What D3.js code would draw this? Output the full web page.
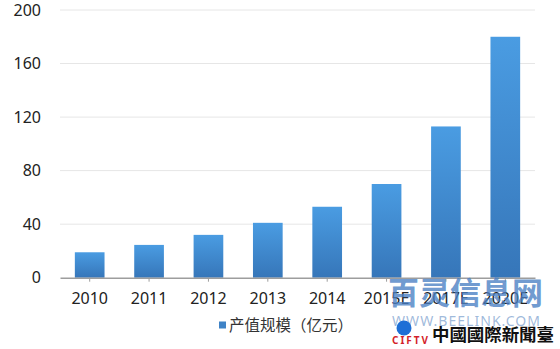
<!DOCTYPE html>
<html>
<head>
<meta charset="utf-8">
<script src="https://cdn.jsdelivr.net/npm/d3@7"></script>
<style>
  body { margin: 0; background: #fff; }
  text { font-family: "Noto Sans", "Noto Sans CJK SC", sans-serif; }
</style>
</head>
<body>
<div id="chart"></div>
<script>
// data
const years = ["2010", "2011", "2012", "2013", "2014", "2015E", "2017E", "2020E"];
const values = [19, 24.5, 32, 41, 53, 70, 113, 180];
const yTicks = [0, 40, 80, 120, 160, 200];
const seriesName = "产值规模（亿元）";

const W = 560, H = 349;
const margin = {top: 10, right: 25, bottom: 71, left: 60};

const svg = d3.select("#chart").append("svg")
  .attr("width", W).attr("height", H);

const defs = svg.append("defs");
const grad = defs.append("linearGradient")
  .attr("id", "barGrad").attr("x1", 0).attr("y1", 0).attr("x2", 0).attr("y2", 1);
grad.append("stop").attr("offset", "0%").attr("stop-color", "#4a9ce2");
grad.append("stop").attr("offset", "100%").attr("stop-color", "#3676b9");

const x = d3.scaleBand()
  .domain(years)
  .range([margin.left, W - margin.right])
  .paddingInner(0.5).paddingOuter(0.25);

const y = d3.scaleLinear()
  .domain([0, 200])
  .range([H - margin.bottom - 0.3, margin.top]);

// gridlines
svg.append("g")
  .selectAll("line")
  .data(yTicks.filter(d => d > 0))
  .enter().append("line")
    .attr("x1", margin.left).attr("x2", W - margin.right)
    .attr("y1", d => y(d)).attr("y2", d => y(d))
    .attr("stroke", "#e6e6e6").attr("stroke-width", 1);

// y labels
svg.append("g")
  .selectAll("text")
  .data(yTicks)
  .enter().append("text")
    .attr("x", 41)
    .attr("y", d => y(d))
    .attr("dy", "0.36em")
    .attr("text-anchor", "end")
    .attr("font-size", 16)
    .attr("fill", "#222")
    .text(d => d);

// bars
svg.append("g")
  .selectAll("rect")
  .data(values)
  .enter().append("rect")
    .attr("x", (d, i) => x(years[i]))
    .attr("y", d => y(d))
    .attr("width", x.bandwidth())
    .attr("height", d => y(0) - y(d))
    .attr("fill", "url(#barGrad)");

// x axis line + ticks
const xAxis = d3.axisBottom(x).tickSize(4).tickSizeOuter(0).tickPadding(11);
const gx = svg.append("g")
  .attr("transform", "translate(0," + y(0) + ")")
  .call(xAxis);
gx.select(".domain").attr("stroke", "#9d9d9d").attr("stroke-width", 1.5);
gx.selectAll(".tick line").attr("stroke", "#9d9d9d");
gx.selectAll(".tick text")
  .attr("font-size", 16)
  .attr("fill", "#222")
  .style("font-family", "\"Noto Sans\", sans-serif");

// legend
const lg = svg.append("g").attr("transform", "translate(219,325)");
lg.append("rect").attr("x", 0).attr("y", -3.5).attr("width", 7).attr("height", 7).attr("fill", "#3f83c6");
lg.append("text")
  .attr("x", 10).attr("y", 0).attr("dy", "0.36em")
  .attr("font-size", 15.5).attr("fill", "#333")
  .style("font-family", "\"Noto Sans CJK SC\", sans-serif")
  .text(seriesName);

// watermarks
svg.append("text")
  .attr("x", 388).attr("y", 304)
  .attr("font-size", 31).attr("font-weight", "bold")
  .attr("textLength", 155)
  .attr("fill", "#4a80c4").attr("fill-opacity", 0.8)
  .style("font-family", "\"Noto Sans CJK SC\", sans-serif")
  .text("百灵信息网");
svg.append("text")
  .attr("x", 392).attr("y", 326)
  .attr("font-size", 14)
  .attr("textLength", 148)
  .attr("fill", "#7fa3cf").attr("fill-opacity", 0.75)
  .text("WWW.BEELINK.COM");
svg.append("circle")
  .attr("cx", 404).attr("cy", 328).attr("r", 7.5)
  .attr("fill", "#1e6fd6");
svg.append("text")
  .attr("x", 392).attr("y", 344)
  .attr("font-size", 10).attr("font-weight", "bold")
  .attr("textLength", 36)
  .attr("fill", "#d41f2a")
  .text("CIFTV");
svg.append("text")
  .attr("x", 432).attr("y", 341)
  .attr("font-size", 17.5).attr("font-weight", "bold")
  .attr("textLength", 122)
  .attr("fill", "#111")
  .style("font-family", "\"Noto Sans CJK TC\", sans-serif")
  .text("中國國際新聞臺");
</script>
</body>
</html>
